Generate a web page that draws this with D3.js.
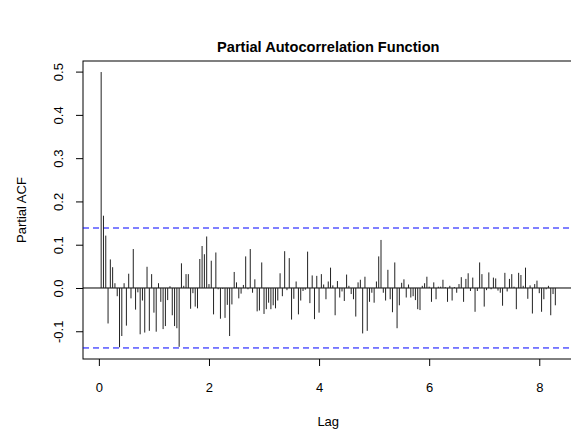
<!DOCTYPE html>
<html>
<head>
<meta charset="utf-8">
<script src="https://cdn.jsdelivr.net/npm/d3@7"></script>
<style>
  html, body { margin: 0; padding: 0; background: #fff; }
  svg { display: block; }
  text { font-family: "Liberation Sans", Arial, Helvetica, sans-serif; fill: #000; }
</style>
</head>
<body>
<svg id="chart" width="571" height="433"></svg>
<script>
// ---- data ----
const titleText = "Partial Autocorrelation Function";
const xLabel = "Lag";
const yLabel = "Partial ACF";
const frequency = 24;      // lags are k / frequency
const nObs = 200;          // series length used for the confidence bound
const xTicks = [0, 2, 4, 6, 8];
const yTicks = [-0.1, 0.0, 0.1, 0.2, 0.3, 0.4, 0.5];
const pacfValues = [
  0.499, 0.167, 0.121, -0.082, 0.066, 0.048, 0.011, -0.019, -0.137, -0.111,
  0.011, -0.087, 0.033, -0.024, 0.090, -0.050, -0.010, -0.107, -0.029, -0.103,
  0.049, -0.099, 0.032, -0.057, -0.101, 0.011, -0.032, -0.095, -0.088, -0.028,
  0.004, -0.063, -0.088, -0.093, -0.136, 0.057, 0.005, 0.032, 0.032, -0.048,
  -0.012, -0.043, -0.047, 0.067, 0.097, 0.078, 0.119, 0.009, 0.063, -0.061,
  0.082, -0.003, -0.071, -0.002, -0.069, -0.039, -0.111, -0.038, 0.037, 0.013,
  -0.024, -0.013, 0.007, 0.073, -0.003, 0.090, -0.011, 0.020, -0.054, -0.052,
  0.059, -0.060, -0.049, -0.034, -0.049, -0.040, -0.047, -0.029, 0.034, -0.019,
  0.085, -0.005, 0.069, -0.073, -0.025, 0.015, -0.061, -0.029, -0.007, -0.004,
  0.084, -0.035, 0.029, -0.072, 0.028, -0.057, 0.032, 0.008, -0.026, 0.015,
  0.047, 0.006, -0.063, 0.016, -0.022, -0.008, -0.030, 0.031, 0.005, -0.014,
  -0.026, -0.066, 0.013, 0.019, -0.105, 0.026, -0.099, -0.032, -0.011, -0.034,
  0.015, 0.073, 0.111, -0.011, -0.029, 0.042, -0.026, -0.056, 0.059, -0.093,
  -0.040, 0.012, 0.020, -0.022, 0.008, -0.022, -0.019, -0.028, -0.049, -0.051,
  0.005, 0.011, 0.026, 0.003, -0.032, 0.013, -0.026, 0.003, 0.003, 0.019,
  0.002, -0.032, 0.005, -0.029, 0.002, -0.011, 0.009, 0.025, -0.032, 0.021,
  0.034, -0.007, 0.024, -0.055, -0.007, 0.059, 0.032, -0.043, -0.005, 0.036,
  -0.003, 0.024, 0.022, -0.006, -0.011, -0.041, 0.035, -0.008, 0.021, 0.032,
  0.003, -0.049, 0.035, 0.030, 0.005, 0.047, -0.025, 0.006, -0.059, 0.009,
  0.017, -0.012, -0.055, -0.026, -0.003, 0.005, -0.063, -0.014, -0.040
];

// ---- layout ----
const W = 571, H = 433;
const plot = { left: 83, right: 573.5, top: 61, bottom: 359 };

const data = pacfValues.map((v, i) => ({ lag: (i + 1) / frequency, value: v }));
const ci = 1.959964 / Math.sqrt(nObs);

// R-style 4% axis extension
function ext(lo, hi) { const d = (hi - lo) * 0.04; return [lo - d, hi + d]; }
const xDom = ext(d3.min(data, d => d.lag), d3.max(data, d => d.lag));
const yDom = ext(Math.min(-ci, d3.min(pacfValues)), Math.max(ci, d3.max(pacfValues)));

const x = d3.scaleLinear().domain(xDom).range([plot.left, plot.right]);
const y = d3.scaleLinear().domain(yDom).range([plot.bottom, plot.top]);

const svg = d3.select("#chart");
const fmtY = d => d.toFixed(1);   // plain hyphen-minus, as R prints

// title
svg.append("text")
  .attr("x", (plot.left + plot.right) / 2)
  .attr("y", 52)
  .attr("text-anchor", "middle")
  .style("font-size", "14.6px")
  .style("font-weight", "bold")
  .text(titleText);

// box
svg.append("rect")
  .attr("x", plot.left).attr("y", plot.top)
  .attr("width", plot.right - plot.left).attr("height", plot.bottom - plot.top)
  .attr("fill", "none").attr("stroke", "#000").attr("stroke-width", 1);

// x axis
const xAxis = d3.axisBottom(x).tickValues(xTicks).tickSize(7).tickFormat(d3.format("d"));
const gx = svg.append("g").attr("transform", `translate(0,${plot.bottom})`).call(xAxis);
gx.select(".domain").remove();
gx.selectAll("line").attr("stroke", "#000");
gx.selectAll("text").remove();
gx.selectAll(".tick").append("text")
  .attr("y", 33)
  .attr("text-anchor", "middle")
  .style("font-size", "13px")
  .text(d => d3.format("d")(d));

// y axis
const yAxis = d3.axisLeft(y).tickValues(yTicks).tickSize(7).tickFormat(fmtY);
const gy = svg.append("g").attr("transform", `translate(${plot.left},0)`).call(yAxis);
gy.select(".domain").remove();
gy.selectAll("line").attr("stroke", "#000");
gy.selectAll("text").remove();
gy.selectAll(".tick").append("text")
  .attr("transform", "translate(-20,0) rotate(-90)")
  .attr("text-anchor", "middle")
  .style("font-size", "13px")
  .text(fmtY);

// axis labels
svg.append("text")
  .attr("x", (plot.left + plot.right) / 2)
  .attr("y", 426)
  .attr("text-anchor", "middle")
  .style("font-size", "13px")
  .text(xLabel);

svg.append("text")
  .attr("transform", `translate(26,${(plot.top + plot.bottom) / 2}) rotate(-90)`)
  .attr("text-anchor", "middle")
  .style("font-size", "13px")
  .text(yLabel);

// zero line
svg.append("line")
  .attr("x1", plot.left).attr("x2", plot.right)
  .attr("y1", y(0)).attr("y2", y(0))
  .attr("stroke", "#000").attr("stroke-width", 1);

// confidence bounds
[ci, -ci].forEach(c => {
  svg.append("line")
    .attr("x1", plot.left).attr("x2", plot.right)
    .attr("y1", y(c)).attr("y2", y(c))
    .attr("stroke", "#0000ff").attr("stroke-width", 1)
    .attr("stroke-dasharray", "6,4");
});

// bars
svg.append("g").selectAll("line").data(data).join("line")
  .attr("x1", d => x(d.lag)).attr("x2", d => x(d.lag))
  .attr("y1", y(0)).attr("y2", d => y(d.value))
  .attr("stroke", "#222").attr("stroke-width", 1);
</script>
</body>
</html>
